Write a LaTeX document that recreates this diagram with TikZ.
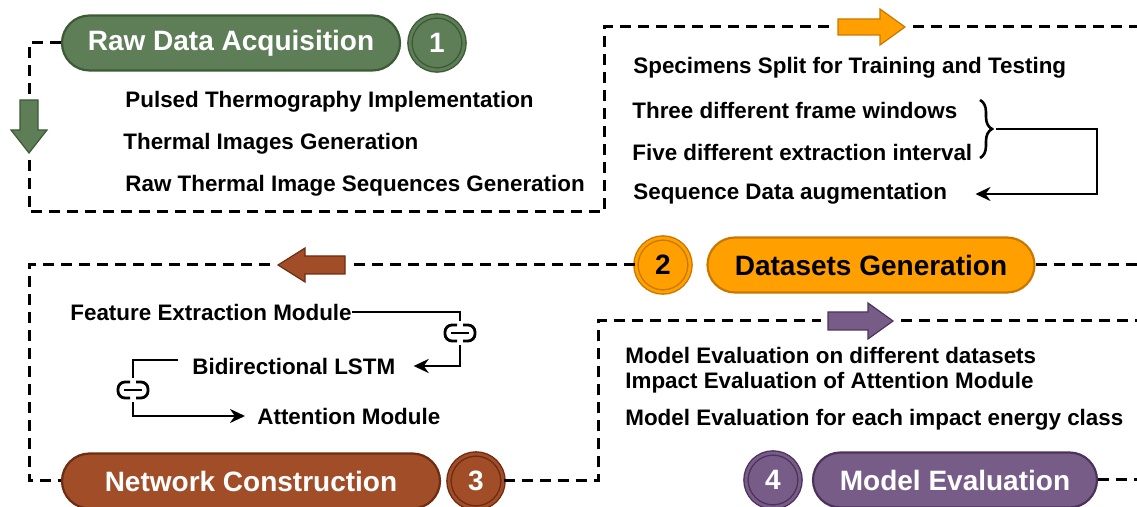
\documentclass[tikz,border=0pt]{standalone}
\usepackage{fontspec}
\setmainfont{Liberation Sans}
\usetikzlibrary{arrows.meta,decorations.pathreplacing}
\definecolor{rawgreen}{HTML}{5E7E58}
\definecolor{rawgreend}{HTML}{3C5A36}
\definecolor{dsorange}{HTML}{FFA000}
\definecolor{dsoranged}{HTML}{C87800}
\definecolor{netbrown}{HTML}{A04D28}
\definecolor{netbrownd}{HTML}{6E2C12}
\definecolor{evpurple}{HTML}{785C88}
\definecolor{evpurpled}{HTML}{4C335C}
\begin{document}
\begin{tikzpicture}[x=0.5pt, y=-0.5pt, >={Stealth[length=7.5pt,width=7pt]},
  flow/.style={dash pattern=on 5.5pt off 3.5pt, line width=1.5pt},
  link/.style={line width=1.3pt},
  pill/.style={rounded corners=13.75pt, minimum height=27.5pt, line width=1.1pt,
    font=\fontsize{14}{16}\selectfont\bfseries, inner sep=0pt},
  stepnum/.style={circle, minimum size=27pt, line width=0.7pt, double distance=1.4pt,
    font=\fontsize{14}{16}\selectfont\bfseries, inner sep=0pt},
  item/.style={anchor=west, font=\fontsize{11.2}{13}\selectfont\bfseries, inner sep=0pt}]
\useasboundingbox (0,0) rectangle (1137,507);

% stage 1
\node[pill, fill=rawgreen, draw=rawgreend, text=white, minimum width=169pt] (p1) at (231,43) {Raw Data Acquisition};
\node[stepnum, fill=rawgreen, draw=rawgreend, double=rawgreen, text=white] (n1) at (437,43) {1};
\node[item] (pt) at (125,102) {Pulsed Thermography Implementation};
\node[item] (ti) at (123,144) {Thermal Images Generation};
\node[item] (rs) at (125,186) {Raw Thermal Image Sequences Generation};
\draw[flow] (p1.west) -| (29,94);
\filldraw[fill=rawgreen, draw=rawgreend, line width=0.6pt] (20,100)--(38,100)--(38,130)--(47,130)--(29,153)--(11,130)--(20,130)--cycle;
\draw[flow] (29,160) |- (604,212) |- (830,27);
\filldraw[fill=dsorange, draw=dsoranged, line width=0.6pt] (838,19)--(880,19)--(880,9)--(905,27)--(880,45)--(880,35)--(838,35)--cycle;
\draw[flow] (913,27) -- (1137,27);

% stage 2
\node[item] (sp) at (633,68) {Specimens Split for Training and Testing};
\node[item] (fw) at (632,110) {Three different frame windows};
\node[item] (ei) at (632,152) {Five different extraction interval};
\node[item] (sq) at (633,194) {Sequence Data augmentation};
\draw[decorate, decoration={brace, amplitude=6pt}, line width=1.3pt] (980,100) -- (980,158);
\coordinate (bt) at (996,129);
\draw[link, ->] (bt) -- (1097,129) |- ([xshift=14pt]sq.east);
\node[pill, fill=dsorange, draw=dsoranged, text=black, minimum width=163.5pt] (p2) at (871,265) {Datasets Generation};
\node[stepnum, fill=dsorange, draw=dsoranged, double=dsorange, text=black] (n2) at (663,265) {2};
\draw[flow] (p2.east) -- (1137,265);
\draw[flow] (n2.west) -- (353,265);
\filldraw[fill=netbrown, draw=netbrownd, line width=0.6pt] (345,256)--(305,256)--(305,248)--(278,265)--(305,282)--(305,274)--(345,274)--cycle;
\draw[flow] (270,265) -| (29,481) -- (62,481);

% stage 3
\node[pill, fill=netbrown, draw=netbrownd, text=white, minimum width=189pt] (p3) at (251,481) {Network Construction};
\node[stepnum, fill=netbrown, draw=netbrownd, double=netbrown, text=white] (n3) at (476,481) {3};
\node[item] (fe) at (70,312) {Feature Extraction Module};
\node[item] (bl) at (192,366) {Bidirectional LSTM};
\node[item] (am) at (257,416) {Attention Module};
\coordinate (lk1) at (460,333);
\coordinate (lk2) at (133,390);
\foreach \c in {lk1,lk2}
{
    \draw[line width=1.4pt, rounded corners=3.5pt] ([xshift=-1.5pt,yshift=4pt]\c) -- ([xshift=-7.5pt,yshift=4pt]\c) -- ([xshift=-7.5pt,yshift=-4pt]\c) -- ([xshift=-1.5pt,yshift=-4pt]\c);
    \draw[line width=1.4pt, rounded corners=3.5pt] ([xshift=1.5pt,yshift=4pt]\c) -- ([xshift=7.5pt,yshift=4pt]\c) -- ([xshift=7.5pt,yshift=-4pt]\c) -- ([xshift=1.5pt,yshift=-4pt]\c);
    \draw[line width=1.4pt] ([xshift=-4.5pt]\c) -- ([xshift=4.5pt]\c);
}
\draw[link] (fe.east) -| ([yshift=6pt]lk1);
\draw[link, ->] ([yshift=-6pt]lk1) |- ([xshift=9pt]bl.east);
\draw[link] ([xshift=-7pt,yshift=3pt]bl.west) -| ([yshift=6pt]lk2);
\draw[link, ->] ([yshift=-6pt]lk2) |- ([xshift=-6pt]am.west);
\draw[flow] (n3.east) -| (598,321) -- (821,321);
\filldraw[fill=evpurple, draw=evpurpled, line width=0.6pt] (828,312)--(868,312)--(868,303)--(893,321)--(868,339)--(868,330)--(828,330)--cycle;
\draw[flow] (901,321) -- (1137,321);

% stage 4
\node[item] (ed) at (625,355) {Model Evaluation on different datasets};
\node[item] (ia) at (625,383) {Impact Evaluation of Attention Module};
\node[item] (ec) at (625,420) {Model Evaluation for each impact energy class};
\node[stepnum, fill=evpurple, draw=evpurpled, double=evpurple, text=white] (n4) at (773,480) {4};
\node[pill, fill=evpurple, draw=evpurpled, text=white, minimum width=142pt] (p4) at (955,480) {Model Evaluation};
\draw[flow] (p4.east) -- (1137,480);
\end{tikzpicture}
\end{document}
